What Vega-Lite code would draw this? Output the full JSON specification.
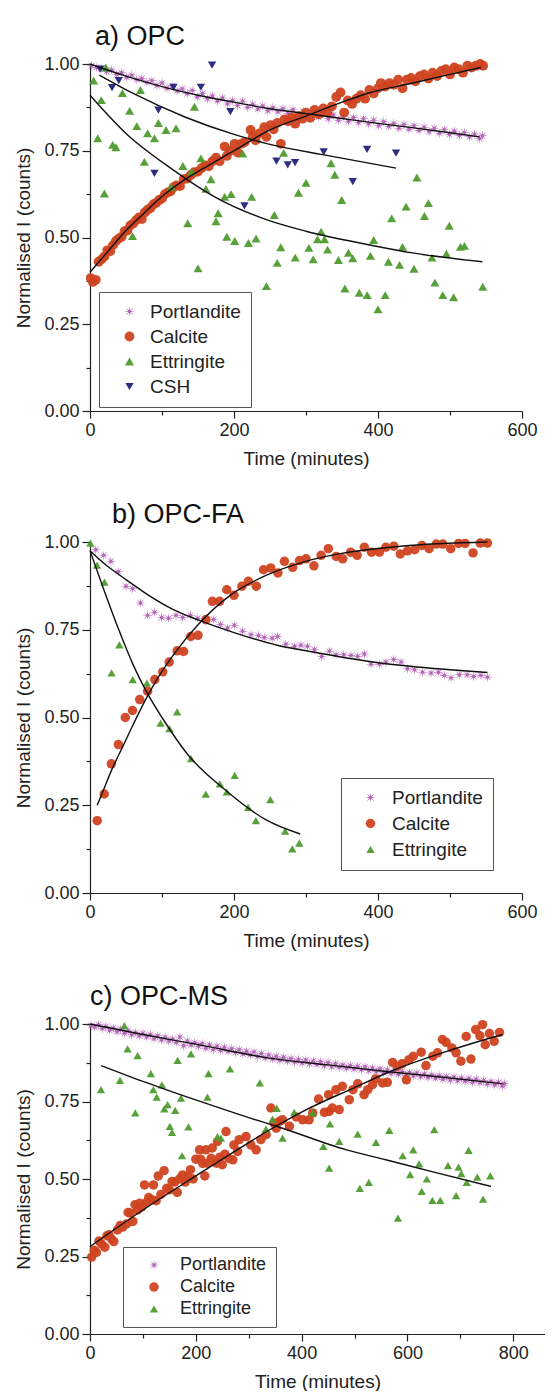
{
"$schema":"https://vega.github.io/schema/vega-lite/v6.json",
"background":"white",
"padding":{"left":14,"top":23,"right":0,"bottom":0},
"config":{
 "font":"Liberation Sans",
 "view":{"stroke":null},
 "axis":{"domainColor":"#222","tickColor":"#222","labelColor":"#222","titleColor":"#222","labelFontSize":18,"titleFontSize":19,"titleFontWeight":"normal","grid":false,"domainWidth":1.2,"tickWidth":1.2,"labelPadding":3,"titlePadding":10,"labelFlush":false,"labelOverlap":false,"labelFont":"Liberation Sans","titleFont":"Liberation Sans"},
 "title":{"fontSize":27,"fontWeight":"normal","anchor":"start","frame":"group","offset":4,"color":"#111","font":"Liberation Sans"},
 "legend":{"labelColor":"#222","labelFont":"Liberation Sans","strokeColor":"#555"}
},
"datasets":{
"a_pts":[
{"m":"Portlandite","t":2,"v":0.995},{"m":"Portlandite","t":9,"v":0.99},{"m":"Portlandite","t":16,"v":0.987},{"m":"Portlandite","t":23,"v":0.978},{"m":"Portlandite","t":30,"v":0.983},{"m":"Portlandite","t":37,"v":0.97},{"m":"Portlandite","t":44,"v":0.975},{"m":"Portlandite","t":51,"v":0.962},{"m":"Portlandite","t":58,"v":0.968},{"m":"Portlandite","t":65,"v":0.955},{"m":"Portlandite","t":72,"v":0.958},{"m":"Portlandite","t":79,"v":0.947},{"m":"Portlandite","t":86,"v":0.952},{"m":"Portlandite","t":93,"v":0.938},{"m":"Portlandite","t":100,"v":0.945},{"m":"Portlandite","t":107,"v":0.93},{"m":"Portlandite","t":114,"v":0.937},{"m":"Portlandite","t":121,"v":0.922},{"m":"Portlandite","t":128,"v":0.928},{"m":"Portlandite","t":135,"v":0.915},{"m":"Portlandite","t":142,"v":0.924},{"m":"Portlandite","t":149,"v":0.905},{"m":"Portlandite","t":156,"v":0.915},{"m":"Portlandite","t":163,"v":0.9},{"m":"Portlandite","t":170,"v":0.908},{"m":"Portlandite","t":177,"v":0.893},{"m":"Portlandite","t":184,"v":0.902},{"m":"Portlandite","t":191,"v":0.885},{"m":"Portlandite","t":198,"v":0.895},{"m":"Portlandite","t":205,"v":0.88},{"m":"Portlandite","t":212,"v":0.893},{"m":"Portlandite","t":219,"v":0.875},{"m":"Portlandite","t":226,"v":0.884},{"m":"Portlandite","t":233,"v":0.87},{"m":"Portlandite","t":240,"v":0.879},{"m":"Portlandite","t":247,"v":0.865},{"m":"Portlandite","t":254,"v":0.874},{"m":"Portlandite","t":261,"v":0.862},{"m":"Portlandite","t":268,"v":0.871},{"m":"Portlandite","t":275,"v":0.858},{"m":"Portlandite","t":282,"v":0.868},{"m":"Portlandite","t":289,"v":0.853},{"m":"Portlandite","t":296,"v":0.864},{"m":"Portlandite","t":303,"v":0.85},{"m":"Portlandite","t":310,"v":0.861},{"m":"Portlandite","t":317,"v":0.847},{"m":"Portlandite","t":324,"v":0.856},{"m":"Portlandite","t":331,"v":0.842},{"m":"Portlandite","t":338,"v":0.853},{"m":"Portlandite","t":345,"v":0.838},{"m":"Portlandite","t":352,"v":0.849},{"m":"Portlandite","t":359,"v":0.835},{"m":"Portlandite","t":366,"v":0.846},{"m":"Portlandite","t":373,"v":0.831},{"m":"Portlandite","t":380,"v":0.842},{"m":"Portlandite","t":387,"v":0.828},{"m":"Portlandite","t":394,"v":0.838},{"m":"Portlandite","t":401,"v":0.822},{"m":"Portlandite","t":408,"v":0.834},{"m":"Portlandite","t":415,"v":0.82},{"m":"Portlandite","t":422,"v":0.829},{"m":"Portlandite","t":429,"v":0.815},{"m":"Portlandite","t":436,"v":0.826},{"m":"Portlandite","t":443,"v":0.812},{"m":"Portlandite","t":450,"v":0.822},{"m":"Portlandite","t":457,"v":0.808},{"m":"Portlandite","t":464,"v":0.818},{"m":"Portlandite","t":471,"v":0.805},{"m":"Portlandite","t":478,"v":0.815},{"m":"Portlandite","t":485,"v":0.8},{"m":"Portlandite","t":492,"v":0.811},{"m":"Portlandite","t":499,"v":0.797},{"m":"Portlandite","t":506,"v":0.806},{"m":"Portlandite","t":513,"v":0.794},{"m":"Portlandite","t":520,"v":0.803},{"m":"Portlandite","t":527,"v":0.79},{"m":"Portlandite","t":534,"v":0.798},{"m":"Portlandite","t":541,"v":0.785},{"m":"Portlandite","t":545,"v":0.793},
{"m":"Calcite","t":1,"v":0.383},{"m":"Calcite","t":4,"v":0.372},{"m":"Calcite","t":8,"v":0.378},{"m":"Calcite","t":12,"v":0.43},{"m":"Calcite","t":16,"v":0.437},{"m":"Calcite","t":20,"v":0.445},{"m":"Calcite","t":24,"v":0.463},{"m":"Calcite","t":28,"v":0.46},{"m":"Calcite","t":32,"v":0.478},{"m":"Calcite","t":36,"v":0.49},{"m":"Calcite","t":40,"v":0.497},{"m":"Calcite","t":44,"v":0.502},{"m":"Calcite","t":48,"v":0.518},{"m":"Calcite","t":52,"v":0.52},{"m":"Calcite","t":56,"v":0.535},{"m":"Calcite","t":60,"v":0.54},{"m":"Calcite","t":64,"v":0.55},{"m":"Calcite","t":68,"v":0.558},{"m":"Calcite","t":72,"v":0.553},{"m":"Calcite","t":76,"v":0.572},{"m":"Calcite","t":80,"v":0.58},{"m":"Calcite","t":84,"v":0.585},{"m":"Calcite","t":88,"v":0.595},{"m":"Calcite","t":92,"v":0.6},{"m":"Calcite","t":96,"v":0.608},{"m":"Calcite","t":100,"v":0.612},{"m":"Calcite","t":104,"v":0.625},{"m":"Calcite","t":108,"v":0.63},{"m":"Calcite","t":112,"v":0.633},{"m":"Calcite","t":116,"v":0.645},{"m":"Calcite","t":120,"v":0.65},{"m":"Calcite","t":125,"v":0.648},{"m":"Calcite","t":130,"v":0.668},{"m":"Calcite","t":135,"v":0.67},{"m":"Calcite","t":140,"v":0.68},{"m":"Calcite","t":145,"v":0.688},{"m":"Calcite","t":150,"v":0.69},{"m":"Calcite","t":155,"v":0.7},{"m":"Calcite","t":160,"v":0.708},{"m":"Calcite","t":165,"v":0.705},{"m":"Calcite","t":170,"v":0.72},{"m":"Calcite","t":175,"v":0.73},{"m":"Calcite","t":180,"v":0.72},{"m":"Calcite","t":187,"v":0.762},{"m":"Calcite","t":190,"v":0.735},{"m":"Calcite","t":195,"v":0.75},{"m":"Calcite","t":201,"v":0.77},{"m":"Calcite","t":205,"v":0.745},{"m":"Calcite","t":210,"v":0.77},{"m":"Calcite","t":215,"v":0.775},{"m":"Calcite","t":223,"v":0.81},{"m":"Calcite","t":226,"v":0.79},{"m":"Calcite","t":230,"v":0.78},{"m":"Calcite","t":235,"v":0.8},{"m":"Calcite","t":242,"v":0.818},{"m":"Calcite","t":245,"v":0.79},{"m":"Calcite","t":251,"v":0.824},{"m":"Calcite","t":255,"v":0.812},{"m":"Calcite","t":260,"v":0.83},{"m":"Calcite","t":265,"v":0.77},{"m":"Calcite","t":270,"v":0.84},{"m":"Calcite","t":275,"v":0.835},{"m":"Calcite","t":280,"v":0.845},{"m":"Calcite","t":285,"v":0.828},{"m":"Calcite","t":290,"v":0.85},{"m":"Calcite","t":295,"v":0.842},{"m":"Calcite","t":300,"v":0.86},{"m":"Calcite","t":306,"v":0.845},{"m":"Calcite","t":312,"v":0.868},{"m":"Calcite","t":318,"v":0.855},{"m":"Calcite","t":324,"v":0.872},{"m":"Calcite","t":330,"v":0.86},{"m":"Calcite","t":336,"v":0.878},{"m":"Calcite","t":342,"v":0.905},{"m":"Calcite","t":348,"v":0.918},{"m":"Calcite","t":353,"v":0.86},{"m":"Calcite","t":358,"v":0.895},{"m":"Calcite","t":364,"v":0.885},{"m":"Calcite","t":370,"v":0.9},{"m":"Calcite","t":376,"v":0.91},{"m":"Calcite","t":382,"v":0.9},{"m":"Calcite","t":388,"v":0.925},{"m":"Calcite","t":394,"v":0.915},{"m":"Calcite","t":400,"v":0.93},{"m":"Calcite","t":404,"v":0.945},{"m":"Calcite","t":410,"v":0.935},{"m":"Calcite","t":416,"v":0.945},{"m":"Calcite","t":422,"v":0.94},{"m":"Calcite","t":428,"v":0.955},{"m":"Calcite","t":434,"v":0.93},{"m":"Calcite","t":440,"v":0.955},{"m":"Calcite","t":446,"v":0.96},{"m":"Calcite","t":452,"v":0.95},{"m":"Calcite","t":458,"v":0.965},{"m":"Calcite","t":464,"v":0.97},{"m":"Calcite","t":470,"v":0.958},{"m":"Calcite","t":476,"v":0.975},{"m":"Calcite","t":482,"v":0.965},{"m":"Calcite","t":488,"v":0.98},{"m":"Calcite","t":494,"v":0.985},{"m":"Calcite","t":500,"v":0.97},{"m":"Calcite","t":506,"v":0.99},{"m":"Calcite","t":512,"v":0.985},{"m":"Calcite","t":518,"v":0.975},{"m":"Calcite","t":524,"v":0.995},{"m":"Calcite","t":530,"v":0.99},{"m":"Calcite","t":536,"v":0.995},{"m":"Calcite","t":542,"v":1.0},{"m":"Calcite","t":546,"v":0.995},
{"m":"Ettringite","t":5,"v":0.952},{"m":"Ettringite","t":10.7,"v":0.786},{"m":"Ettringite","t":15.7,"v":0.896},{"m":"Ettringite","t":20,"v":0.627},{"m":"Ettringite","t":22,"v":0.99},{"m":"Ettringite","t":31.5,"v":0.767},{"m":"Ettringite","t":36,"v":0.76},{"m":"Ettringite","t":45,"v":0.916},{"m":"Ettringite","t":55,"v":0.865},{"m":"Ettringite","t":59,"v":0.504},{"m":"Ettringite","t":65,"v":0.821},{"m":"Ettringite","t":70,"v":0.925},{"m":"Ettringite","t":75.5,"v":0.718},{"m":"Ettringite","t":80,"v":0.8},{"m":"Ettringite","t":89.5,"v":0.786},{"m":"Ettringite","t":95,"v":0.83},{"m":"Ettringite","t":105.6,"v":0.81},{"m":"Ettringite","t":112.5,"v":0.646},{"m":"Ettringite","t":119.5,"v":0.815},{"m":"Ettringite","t":129,"v":0.706},{"m":"Ettringite","t":135.7,"v":0.541},{"m":"Ettringite","t":141,"v":0.69},{"m":"Ettringite","t":145,"v":0.877},{"m":"Ettringite","t":150,"v":0.411},{"m":"Ettringite","t":154,"v":0.728},{"m":"Ettringite","t":161,"v":0.64},{"m":"Ettringite","t":168,"v":0.668},{"m":"Ettringite","t":175,"v":0.547},{"m":"Ettringite","t":178,"v":0.57},{"m":"Ettringite","t":187,"v":0.617},{"m":"Ettringite","t":190,"v":0.502},{"m":"Ettringite","t":196,"v":0.625},{"m":"Ettringite","t":201,"v":0.49},{"m":"Ettringite","t":212,"v":0.742},{"m":"Ettringite","t":220,"v":0.484},{"m":"Ettringite","t":224.6,"v":0.617},{"m":"Ettringite","t":230.6,"v":0.497},{"m":"Ettringite","t":245,"v":0.36},{"m":"Ettringite","t":256,"v":0.565},{"m":"Ettringite","t":260,"v":0.427},{"m":"Ettringite","t":265,"v":0.472},{"m":"Ettringite","t":269,"v":0.744},{"m":"Ettringite","t":285,"v":0.442},{"m":"Ettringite","t":289.5,"v":0.629},{"m":"Ettringite","t":300,"v":0.658},{"m":"Ettringite","t":304,"v":0.47},{"m":"Ettringite","t":310,"v":0.437},{"m":"Ettringite","t":316,"v":0.495},{"m":"Ettringite","t":321,"v":0.517},{"m":"Ettringite","t":325.6,"v":0.495},{"m":"Ettringite","t":330,"v":0.465},{"m":"Ettringite","t":334.8,"v":0.714},{"m":"Ettringite","t":340,"v":0.681},{"m":"Ettringite","t":345,"v":0.435},{"m":"Ettringite","t":349.6,"v":0.608},{"m":"Ettringite","t":354,"v":0.353},{"m":"Ettringite","t":359,"v":0.456},{"m":"Ettringite","t":365,"v":0.44},{"m":"Ettringite","t":374,"v":0.341},{"m":"Ettringite","t":385,"v":0.334},{"m":"Ettringite","t":389.5,"v":0.447},{"m":"Ettringite","t":394,"v":0.493},{"m":"Ettringite","t":400,"v":0.293},{"m":"Ettringite","t":410,"v":0.334},{"m":"Ettringite","t":414.5,"v":0.43},{"m":"Ettringite","t":419,"v":0.555},{"m":"Ettringite","t":430,"v":0.421},{"m":"Ettringite","t":434,"v":0.473},{"m":"Ettringite","t":439,"v":0.589},{"m":"Ettringite","t":450,"v":0.41},{"m":"Ettringite","t":454,"v":0.673},{"m":"Ettringite","t":464.5,"v":0.562},{"m":"Ettringite","t":470,"v":0.599},{"m":"Ettringite","t":475,"v":0.442},{"m":"Ettringite","t":479,"v":0.37},{"m":"Ettringite","t":490,"v":0.334},{"m":"Ettringite","t":495,"v":0.453},{"m":"Ettringite","t":499,"v":0.534},{"m":"Ettringite","t":505,"v":0.328},{"m":"Ettringite","t":514.5,"v":0.473},{"m":"Ettringite","t":520,"v":0.476},{"m":"Ettringite","t":545.5,"v":0.358},
{"m":"CSH","t":14,"v":0.985},{"m":"CSH","t":30.6,"v":0.932},{"m":"CSH","t":40,"v":0.952},{"m":"CSH","t":89.5,"v":0.685},{"m":"CSH","t":95,"v":0.867},{"m":"CSH","t":116,"v":0.933},{"m":"CSH","t":154,"v":0.933},{"m":"CSH","t":169.5,"v":0.997},{"m":"CSH","t":195,"v":0.863},{"m":"CSH","t":214.5,"v":0.591},{"m":"CSH","t":259,"v":0.72},{"m":"CSH","t":274.6,"v":0.709},{"m":"CSH","t":284.8,"v":0.716},{"m":"CSH","t":324.6,"v":0.747},{"m":"CSH","t":365,"v":0.661},{"m":"CSH","t":384.8,"v":0.754},{"m":"CSH","t":425,"v":0.743}
],
"a_fit":[
{"m":"Portlandite","t":0,"v":1.0},{"m":"Portlandite","t":50,"v":0.965},{"m":"Portlandite","t":100,"v":0.935},{"m":"Portlandite","t":150,"v":0.91},{"m":"Portlandite","t":200,"v":0.89},{"m":"Portlandite","t":250,"v":0.871},{"m":"Portlandite","t":300,"v":0.857},{"m":"Portlandite","t":350,"v":0.843},{"m":"Portlandite","t":400,"v":0.829},{"m":"Portlandite","t":450,"v":0.816},{"m":"Portlandite","t":500,"v":0.802},{"m":"Portlandite","t":541,"v":0.79},
{"m":"Calcite","t":0,"v":0.4},{"m":"Calcite","t":25,"v":0.46},{"m":"Calcite","t":50,"v":0.52},{"m":"Calcite","t":75,"v":0.57},{"m":"Calcite","t":100,"v":0.618},{"m":"Calcite","t":131,"v":0.666},{"m":"Calcite","t":175,"v":0.72},{"m":"Calcite","t":200,"v":0.75},{"m":"Calcite","t":250,"v":0.81},{"m":"Calcite","t":300,"v":0.85},{"m":"Calcite","t":350,"v":0.89},{"m":"Calcite","t":385,"v":0.915},{"m":"Calcite","t":450,"v":0.946},{"m":"Calcite","t":500,"v":0.97},{"m":"Calcite","t":543,"v":0.99},
{"m":"Ettringite","t":0,"v":0.91},{"m":"Ettringite","t":50,"v":0.8},{"m":"Ettringite","t":112,"v":0.7},{"m":"Ettringite","t":175,"v":0.615},{"m":"Ettringite","t":247,"v":0.55},{"m":"Ettringite","t":300,"v":0.518},{"m":"Ettringite","t":385,"v":0.48},{"m":"Ettringite","t":450,"v":0.455},{"m":"Ettringite","t":545,"v":0.43},
{"m":"CSH","t":13,"v":0.968},{"m":"CSH","t":60,"v":0.915},{"m":"CSH","t":131,"v":0.848},{"m":"CSH","t":200,"v":0.797},{"m":"CSH","t":247,"v":0.77},{"m":"CSH","t":325,"v":0.738},{"m":"CSH","t":425,"v":0.7}
],
"b_pts":[
{"m":"Portlandite","t":8,"v":0.978},{"m":"Portlandite","t":19,"v":0.962},{"m":"Portlandite","t":29,"v":0.945},{"m":"Portlandite","t":39.4,"v":0.915},{"m":"Portlandite","t":50,"v":0.874},{"m":"Portlandite","t":59.3,"v":0.867},{"m":"Portlandite","t":70,"v":0.826},{"m":"Portlandite","t":80,"v":0.791},{"m":"Portlandite","t":89.5,"v":0.8},{"m":"Portlandite","t":99.6,"v":0.785},{"m":"Portlandite","t":109,"v":0.783},{"m":"Portlandite","t":119.5,"v":0.791},{"m":"Portlandite","t":128.8,"v":0.785},{"m":"Portlandite","t":139.4,"v":0.791},{"m":"Portlandite","t":149.6,"v":0.783},{"m":"Portlandite","t":161,"v":0.774},{"m":"Portlandite","t":171.8,"v":0.779},{"m":"Portlandite","t":181,"v":0.765},{"m":"Portlandite","t":191,"v":0.755},{"m":"Portlandite","t":200.5,"v":0.763},{"m":"Portlandite","t":212,"v":0.746},{"m":"Portlandite","t":223.6,"v":0.736},{"m":"Portlandite","t":234,"v":0.734},{"m":"Portlandite","t":242,"v":0.728},{"m":"Portlandite","t":253,"v":0.726},{"m":"Portlandite","t":260.7,"v":0.731},{"m":"Portlandite","t":272,"v":0.709},{"m":"Portlandite","t":284,"v":0.703},{"m":"Portlandite","t":293,"v":0.706},{"m":"Portlandite","t":302,"v":0.703},{"m":"Portlandite","t":311.7,"v":0.693},{"m":"Portlandite","t":321.8,"v":0.674},{"m":"Portlandite","t":332.5,"v":0.689},{"m":"Portlandite","t":341.7,"v":0.679},{"m":"Portlandite","t":352.4,"v":0.679},{"m":"Portlandite","t":362.5,"v":0.677},{"m":"Portlandite","t":371.8,"v":0.674},{"m":"Portlandite","t":381,"v":0.681},{"m":"Portlandite","t":390.3,"v":0.652},{"m":"Portlandite","t":402,"v":0.652},{"m":"Portlandite","t":411,"v":0.658},{"m":"Portlandite","t":421.8,"v":0.665},{"m":"Portlandite","t":432,"v":0.658},{"m":"Portlandite","t":441,"v":0.639},{"m":"Portlandite","t":450.6,"v":0.636},{"m":"Portlandite","t":462,"v":0.629},{"m":"Portlandite","t":473.6,"v":0.627},{"m":"Portlandite","t":484,"v":0.629},{"m":"Portlandite","t":492,"v":0.62},{"m":"Portlandite","t":501.4,"v":0.613},{"m":"Portlandite","t":513,"v":0.622},{"m":"Portlandite","t":523.7,"v":0.622},{"m":"Portlandite","t":533,"v":0.617},{"m":"Portlandite","t":543,"v":0.62},{"m":"Portlandite","t":552,"v":0.615},
{"m":"Calcite","t":10,"v":0.206},{"m":"Calcite","t":19.7,"v":0.282},{"m":"Calcite","t":29.6,"v":0.368},{"m":"Calcite","t":39.4,"v":0.423},{"m":"Calcite","t":49,"v":0.5},{"m":"Calcite","t":59,"v":0.52},{"m":"Calcite","t":69,"v":0.551},{"m":"Calcite","t":80,"v":0.575},{"m":"Calcite","t":90,"v":0.608},{"m":"Calcite","t":101,"v":0.63},{"m":"Calcite","t":110,"v":0.658},{"m":"Calcite","t":121,"v":0.69},{"m":"Calcite","t":130,"v":0.688},{"m":"Calcite","t":140,"v":0.731},{"m":"Calcite","t":150,"v":0.734},{"m":"Calcite","t":161,"v":0.779},{"m":"Calcite","t":170,"v":0.831},{"m":"Calcite","t":180,"v":0.831},{"m":"Calcite","t":190,"v":0.864},{"m":"Calcite","t":200,"v":0.848},{"m":"Calcite","t":211,"v":0.874},{"m":"Calcite","t":220,"v":0.888},{"m":"Calcite","t":231,"v":0.874},{"m":"Calcite","t":241,"v":0.921},{"m":"Calcite","t":251,"v":0.926},{"m":"Calcite","t":261,"v":0.912},{"m":"Calcite","t":270,"v":0.945},{"m":"Calcite","t":281.5,"v":0.928},{"m":"Calcite","t":291,"v":0.947},{"m":"Calcite","t":300,"v":0.952},{"m":"Calcite","t":311,"v":0.932},{"m":"Calcite","t":321,"v":0.962},{"m":"Calcite","t":331,"v":0.981},{"m":"Calcite","t":342,"v":0.959},{"m":"Calcite","t":351,"v":0.952},{"m":"Calcite","t":362,"v":0.971},{"m":"Calcite","t":371,"v":0.962},{"m":"Calcite","t":381,"v":0.985},{"m":"Calcite","t":391,"v":0.971},{"m":"Calcite","t":402,"v":0.971},{"m":"Calcite","t":411,"v":0.985},{"m":"Calcite","t":422,"v":0.988},{"m":"Calcite","t":431,"v":0.966},{"m":"Calcite","t":441,"v":0.975},{"m":"Calcite","t":451,"v":0.978},{"m":"Calcite","t":461,"v":0.99},{"m":"Calcite","t":471,"v":0.981},{"m":"Calcite","t":481,"v":0.994},{"m":"Calcite","t":490,"v":0.994},{"m":"Calcite","t":501,"v":0.981},{"m":"Calcite","t":512,"v":0.996},{"m":"Calcite","t":521,"v":0.996},{"m":"Calcite","t":532,"v":0.969},{"m":"Calcite","t":542,"v":0.997},{"m":"Calcite","t":552,"v":0.997},
{"m":"Ettringite","t":0.5,"v":0.997},{"m":"Ettringite","t":9.7,"v":0.934},{"m":"Ettringite","t":20,"v":0.886},{"m":"Ettringite","t":30,"v":0.627},{"m":"Ettringite","t":40.8,"v":0.707},{"m":"Ettringite","t":59.3,"v":0.608},{"m":"Ettringite","t":79,"v":0.598},{"m":"Ettringite","t":98,"v":0.484},{"m":"Ettringite","t":110.4,"v":0.468},{"m":"Ettringite","t":121,"v":0.516},{"m":"Ettringite","t":140.3,"v":0.383},{"m":"Ettringite","t":160.8,"v":0.282},{"m":"Ettringite","t":180.4,"v":0.311},{"m":"Ettringite","t":190,"v":0.288},{"m":"Ettringite","t":201,"v":0.335},{"m":"Ettringite","t":219.6,"v":0.244},{"m":"Ettringite","t":230.4,"v":0.206},{"m":"Ettringite","t":250.5,"v":0.266},{"m":"Ettringite","t":271,"v":0.176},{"m":"Ettringite","t":281,"v":0.126},{"m":"Ettringite","t":290.7,"v":0.142}
],
"b_fit":[
{"m":"Portlandite","t":0,"v":0.975},{"m":"Portlandite","t":20,"v":0.938},{"m":"Portlandite","t":50,"v":0.893},{"m":"Portlandite","t":80,"v":0.85},{"m":"Portlandite","t":115,"v":0.808},{"m":"Portlandite","t":150,"v":0.778},{"m":"Portlandite","t":200,"v":0.742},{"m":"Portlandite","t":260,"v":0.706},{"m":"Portlandite","t":300,"v":0.69},{"m":"Portlandite","t":400,"v":0.656},{"m":"Portlandite","t":500,"v":0.636},{"m":"Portlandite","t":552,"v":0.628},
{"m":"Calcite","t":10,"v":0.25},{"m":"Calcite","t":20,"v":0.3},{"m":"Calcite","t":30,"v":0.35},{"m":"Calcite","t":45,"v":0.415},{"m":"Calcite","t":60,"v":0.48},{"m":"Calcite","t":77,"v":0.55},{"m":"Calcite","t":94,"v":0.612},{"m":"Calcite","t":120,"v":0.69},{"m":"Calcite","t":150,"v":0.764},{"m":"Calcite","t":196,"v":0.85},{"m":"Calcite","t":247,"v":0.907},{"m":"Calcite","t":300,"v":0.945},{"m":"Calcite","t":340,"v":0.964},{"m":"Calcite","t":432,"v":0.988},{"m":"Calcite","t":552,"v":1.0},
{"m":"Ettringite","t":0,"v":0.975},{"m":"Ettringite","t":20,"v":0.86},{"m":"Ettringite","t":40,"v":0.75},{"m":"Ettringite","t":60,"v":0.65},{"m":"Ettringite","t":78,"v":0.575},{"m":"Ettringite","t":100,"v":0.5},{"m":"Ettringite","t":136,"v":0.394},{"m":"Ettringite","t":190,"v":0.29},{"m":"Ettringite","t":244,"v":0.209},{"m":"Ettringite","t":292,"v":0.168}
],
"c_pts":[
{"m":"Portlandite","t":2,"v":0.995},{"m":"Portlandite","t":9,"v":0.99},{"m":"Portlandite","t":16,"v":0.998},{"m":"Portlandite","t":23,"v":0.985},{"m":"Portlandite","t":30,"v":0.992},{"m":"Portlandite","t":37,"v":0.98},{"m":"Portlandite","t":44,"v":0.987},{"m":"Portlandite","t":51,"v":0.975},{"m":"Portlandite","t":58,"v":0.983},{"m":"Portlandite","t":65,"v":0.97},{"m":"Portlandite","t":72,"v":0.978},{"m":"Portlandite","t":79,"v":0.965},{"m":"Portlandite","t":86,"v":0.973},{"m":"Portlandite","t":93,"v":0.962},{"m":"Portlandite","t":100,"v":0.97},{"m":"Portlandite","t":107,"v":0.958},{"m":"Portlandite","t":114,"v":0.966},{"m":"Portlandite","t":121,"v":0.952},{"m":"Portlandite","t":128,"v":0.962},{"m":"Portlandite","t":135,"v":0.948},{"m":"Portlandite","t":142,"v":0.957},{"m":"Portlandite","t":149,"v":0.945},{"m":"Portlandite","t":156,"v":0.952},{"m":"Portlandite","t":163,"v":0.94},{"m":"Portlandite","t":170,"v":0.958},{"m":"Portlandite","t":177,"v":0.93},{"m":"Portlandite","t":184,"v":0.945},{"m":"Portlandite","t":191,"v":0.932},{"m":"Portlandite","t":198,"v":0.94},{"m":"Portlandite","t":205,"v":0.928},{"m":"Portlandite","t":212,"v":0.937},{"m":"Portlandite","t":219,"v":0.922},{"m":"Portlandite","t":226,"v":0.932},{"m":"Portlandite","t":233,"v":0.918},{"m":"Portlandite","t":240,"v":0.928},{"m":"Portlandite","t":247,"v":0.915},{"m":"Portlandite","t":254,"v":0.925},{"m":"Portlandite","t":261,"v":0.912},{"m":"Portlandite","t":268,"v":0.92},{"m":"Portlandite","t":275,"v":0.908},{"m":"Portlandite","t":282,"v":0.917},{"m":"Portlandite","t":289,"v":0.903},{"m":"Portlandite","t":296,"v":0.912},{"m":"Portlandite","t":303,"v":0.9},{"m":"Portlandite","t":310,"v":0.91},{"m":"Portlandite","t":317,"v":0.895},{"m":"Portlandite","t":324,"v":0.905},{"m":"Portlandite","t":331,"v":0.89},{"m":"Portlandite","t":338,"v":0.9},{"m":"Portlandite","t":345,"v":0.887},{"m":"Portlandite","t":352,"v":0.896},{"m":"Portlandite","t":359,"v":0.883},{"m":"Portlandite","t":366,"v":0.893},{"m":"Portlandite","t":373,"v":0.88},{"m":"Portlandite","t":380,"v":0.889},{"m":"Portlandite","t":387,"v":0.877},{"m":"Portlandite","t":394,"v":0.886},{"m":"Portlandite","t":401,"v":0.874},{"m":"Portlandite","t":408,"v":0.884},{"m":"Portlandite","t":415,"v":0.872},{"m":"Portlandite","t":422,"v":0.881},{"m":"Portlandite","t":429,"v":0.869},{"m":"Portlandite","t":436,"v":0.878},{"m":"Portlandite","t":443,"v":0.865},{"m":"Portlandite","t":450,"v":0.876},{"m":"Portlandite","t":457,"v":0.862},{"m":"Portlandite","t":464,"v":0.872},{"m":"Portlandite","t":471,"v":0.86},{"m":"Portlandite","t":478,"v":0.868},{"m":"Portlandite","t":485,"v":0.857},{"m":"Portlandite","t":492,"v":0.866},{"m":"Portlandite","t":499,"v":0.855},{"m":"Portlandite","t":506,"v":0.864},{"m":"Portlandite","t":513,"v":0.852},{"m":"Portlandite","t":520,"v":0.862},{"m":"Portlandite","t":527,"v":0.849},{"m":"Portlandite","t":534,"v":0.858},{"m":"Portlandite","t":541,"v":0.846},{"m":"Portlandite","t":548,"v":0.856},{"m":"Portlandite","t":555,"v":0.843},{"m":"Portlandite","t":562,"v":0.852},{"m":"Portlandite","t":569,"v":0.84},{"m":"Portlandite","t":576,"v":0.85},{"m":"Portlandite","t":583,"v":0.838},{"m":"Portlandite","t":590,"v":0.847},{"m":"Portlandite","t":597,"v":0.835},{"m":"Portlandite","t":604,"v":0.844},{"m":"Portlandite","t":611,"v":0.832},{"m":"Portlandite","t":618,"v":0.842},{"m":"Portlandite","t":625,"v":0.83},{"m":"Portlandite","t":632,"v":0.839},{"m":"Portlandite","t":639,"v":0.827},{"m":"Portlandite","t":646,"v":0.836},{"m":"Portlandite","t":653,"v":0.825},{"m":"Portlandite","t":660,"v":0.833},{"m":"Portlandite","t":667,"v":0.822},{"m":"Portlandite","t":674,"v":0.831},{"m":"Portlandite","t":681,"v":0.819},{"m":"Portlandite","t":688,"v":0.829},{"m":"Portlandite","t":695,"v":0.817},{"m":"Portlandite","t":702,"v":0.826},{"m":"Portlandite","t":709,"v":0.815},{"m":"Portlandite","t":716,"v":0.824},{"m":"Portlandite","t":723,"v":0.812},{"m":"Portlandite","t":730,"v":0.822},{"m":"Portlandite","t":737,"v":0.81},{"m":"Portlandite","t":744,"v":0.818},{"m":"Portlandite","t":751,"v":0.806},{"m":"Portlandite","t":758,"v":0.815},{"m":"Portlandite","t":765,"v":0.803},{"m":"Portlandite","t":772,"v":0.812},{"m":"Portlandite","t":779,"v":0.8},{"m":"Portlandite","t":783,"v":0.808},
{"m":"Calcite","t":3,"v":0.248},{"m":"Calcite","t":8,"v":0.27},{"m":"Calcite","t":12,"v":0.263},{"m":"Calcite","t":17,"v":0.3},{"m":"Calcite","t":22,"v":0.29},{"m":"Calcite","t":28,"v":0.28},{"m":"Calcite","t":32,"v":0.317},{"m":"Calcite","t":36,"v":0.32},{"m":"Calcite","t":41,"v":0.306},{"m":"Calcite","t":45,"v":0.298},{"m":"Calcite","t":52,"v":0.336},{"m":"Calcite","t":57,"v":0.35},{"m":"Calcite","t":62,"v":0.345},{"m":"Calcite","t":69,"v":0.355},{"m":"Calcite","t":72,"v":0.392},{"m":"Calcite","t":76,"v":0.39},{"m":"Calcite","t":81,"v":0.363},{"m":"Calcite","t":85,"v":0.417},{"m":"Calcite","t":90,"v":0.4},{"m":"Calcite","t":94,"v":0.422},{"m":"Calcite","t":98,"v":0.41},{"m":"Calcite","t":103,"v":0.481},{"m":"Calcite","t":107,"v":0.424},{"m":"Calcite","t":111,"v":0.44},{"m":"Calcite","t":117,"v":0.433},{"m":"Calcite","t":120,"v":0.481},{"m":"Calcite","t":125,"v":0.43},{"m":"Calcite","t":129,"v":0.51},{"m":"Calcite","t":134,"v":0.45},{"m":"Calcite","t":140,"v":0.527},{"m":"Calcite","t":145,"v":0.47},{"m":"Calcite","t":150,"v":0.465},{"m":"Calcite","t":155,"v":0.492},{"m":"Calcite","t":160,"v":0.49},{"m":"Calcite","t":165,"v":0.457},{"m":"Calcite","t":169,"v":0.5},{"m":"Calcite","t":175,"v":0.513},{"m":"Calcite","t":180,"v":0.49},{"m":"Calcite","t":185,"v":0.508},{"m":"Calcite","t":190,"v":0.53},{"m":"Calcite","t":195,"v":0.5},{"m":"Calcite","t":200,"v":0.564},{"m":"Calcite","t":207,"v":0.594},{"m":"Calcite","t":209,"v":0.564},{"m":"Calcite","t":213,"v":0.55},{"m":"Calcite","t":217,"v":0.51},{"m":"Calcite","t":219,"v":0.594},{"m":"Calcite","t":222,"v":0.551},{"m":"Calcite","t":229,"v":0.567},{"m":"Calcite","t":231,"v":0.6},{"m":"Calcite","t":239,"v":0.551},{"m":"Calcite","t":241,"v":0.621},{"m":"Calcite","t":245,"v":0.57},{"m":"Calcite","t":250,"v":0.546},{"m":"Calcite","t":255,"v":0.58},{"m":"Calcite","t":257,"v":0.653},{"m":"Calcite","t":262,"v":0.567},{"m":"Calcite","t":270,"v":0.562},{"m":"Calcite","t":272,"v":0.61},{"m":"Calcite","t":279,"v":0.589},{"m":"Calcite","t":282,"v":0.627},{"m":"Calcite","t":295,"v":0.637},{"m":"Calcite","t":304,"v":0.61},{"m":"Calcite","t":314,"v":0.594},{"m":"Calcite","t":323,"v":0.627},{"m":"Calcite","t":333,"v":0.643},{"m":"Calcite","t":342,"v":0.729},{"m":"Calcite","t":348,"v":0.68},{"m":"Calcite","t":352,"v":0.664},{"m":"Calcite","t":358,"v":0.686},{"m":"Calcite","t":364,"v":0.691},{"m":"Calcite","t":377,"v":0.67},{"m":"Calcite","t":390,"v":0.7},{"m":"Calcite","t":402,"v":0.691},{"m":"Calcite","t":414,"v":0.691},{"m":"Calcite","t":421,"v":0.713},{"m":"Calcite","t":432,"v":0.758},{"m":"Calcite","t":443,"v":0.715},{"m":"Calcite","t":451,"v":0.772},{"m":"Calcite","t":452,"v":0.718},{"m":"Calcite","t":458,"v":0.729},{"m":"Calcite","t":465,"v":0.788},{"m":"Calcite","t":471,"v":0.724},{"m":"Calcite","t":477,"v":0.799},{"m":"Calcite","t":490,"v":0.756},{"m":"Calcite","t":497,"v":0.788},{"m":"Calcite","t":506,"v":0.807},{"m":"Calcite","t":518,"v":0.772},{"m":"Calcite","t":525,"v":0.788},{"m":"Calcite","t":534,"v":0.804},{"m":"Calcite","t":540,"v":0.823},{"m":"Calcite","t":553,"v":0.81},{"m":"Calcite","t":562,"v":0.812},{"m":"Calcite","t":572,"v":0.876},{"m":"Calcite","t":581,"v":0.863},{"m":"Calcite","t":590,"v":0.872},{"m":"Calcite","t":598,"v":0.82},{"m":"Calcite","t":603,"v":0.885},{"m":"Calcite","t":611,"v":0.896},{"m":"Calcite","t":626,"v":0.909},{"m":"Calcite","t":635,"v":0.866},{"m":"Calcite","t":648,"v":0.896},{"m":"Calcite","t":657,"v":0.907},{"m":"Calcite","t":666,"v":0.95},{"m":"Calcite","t":673,"v":0.941},{"m":"Calcite","t":684,"v":0.923},{"m":"Calcite","t":692,"v":0.907},{"m":"Calcite","t":701,"v":0.88},{"m":"Calcite","t":711,"v":0.96},{"m":"Calcite","t":720,"v":0.887},{"m":"Calcite","t":729,"v":0.982},{"m":"Calcite","t":737,"v":0.962},{"m":"Calcite","t":742,"v":0.998},{"m":"Calcite","t":747,"v":0.933},{"m":"Calcite","t":755,"v":0.969},{"m":"Calcite","t":764,"v":0.944},{"m":"Calcite","t":774,"v":0.973},
{"m":"Ettringite","t":20.8,"v":0.788},{"m":"Ettringite","t":56.7,"v":0.818},{"m":"Ettringite","t":64.8,"v":0.995},{"m":"Ettringite","t":71,"v":0.92},{"m":"Ettringite","t":85.6,"v":0.713},{"m":"Ettringite","t":90,"v":0.898},{"m":"Ettringite","t":115,"v":0.84},{"m":"Ettringite","t":119.6,"v":0.788},{"m":"Ettringite","t":126,"v":0.764},{"m":"Ettringite","t":136,"v":0.804},{"m":"Ettringite","t":140.4,"v":0.726},{"m":"Ettringite","t":146.7,"v":0.74},{"m":"Ettringite","t":151,"v":0.67},{"m":"Ettringite","t":155,"v":0.65},{"m":"Ettringite","t":161,"v":0.721},{"m":"Ettringite","t":165.6,"v":0.883},{"m":"Ettringite","t":172,"v":0.761},{"m":"Ettringite","t":174,"v":0.575},{"m":"Ettringite","t":186,"v":0.668},{"m":"Ettringite","t":190.8,"v":0.904},{"m":"Ettringite","t":222,"v":0.764},{"m":"Ettringite","t":224,"v":0.84},{"m":"Ettringite","t":241,"v":0.637},{"m":"Ettringite","t":247.5,"v":0.632},{"m":"Ettringite","t":264.6,"v":0.855},{"m":"Ettringite","t":321,"v":0.81},{"m":"Ettringite","t":332.6,"v":0.661},{"m":"Ettringite","t":345,"v":0.693},{"m":"Ettringite","t":353,"v":0.728},{"m":"Ettringite","t":364,"v":0.632},{"m":"Ettringite","t":386,"v":0.715},{"m":"Ettringite","t":420.8,"v":0.713},{"m":"Ettringite","t":441,"v":0.605},{"m":"Ettringite","t":452,"v":0.535},{"m":"Ettringite","t":453.6,"v":0.678},{"m":"Ettringite","t":471,"v":0.621},{"m":"Ettringite","t":506,"v":0.645},{"m":"Ettringite","t":510,"v":0.47},{"m":"Ettringite","t":527,"v":0.489},{"m":"Ettringite","t":540.5,"v":0.618},{"m":"Ettringite","t":565.7,"v":0.657},{"m":"Ettringite","t":582,"v":0.374},{"m":"Ettringite","t":591,"v":0.575},{"m":"Ettringite","t":605,"v":0.514},{"m":"Ettringite","t":611,"v":0.594},{"m":"Ettringite","t":622,"v":0.549},{"m":"Ettringite","t":627,"v":0.46},{"m":"Ettringite","t":636.6,"v":0.5},{"m":"Ettringite","t":647,"v":0.431},{"m":"Ettringite","t":650.7,"v":0.659},{"m":"Ettringite","t":662,"v":0.431},{"m":"Ettringite","t":676.6,"v":0.543},{"m":"Ettringite","t":692,"v":0.446},{"m":"Ettringite","t":696.6,"v":0.538},{"m":"Ettringite","t":701.8,"v":0.517},{"m":"Ettringite","t":712,"v":0.489},{"m":"Ettringite","t":715.6,"v":0.592},{"m":"Ettringite","t":732,"v":0.506},{"m":"Ettringite","t":743,"v":0.435},{"m":"Ettringite","t":756.6,"v":0.51}
],
"c_fit":[
{"m":"Portlandite","t":0,"v":1.0},{"m":"Portlandite","t":100,"v":0.966},{"m":"Portlandite","t":200,"v":0.935},{"m":"Portlandite","t":339,"v":0.89},{"m":"Portlandite","t":450,"v":0.868},{"m":"Portlandite","t":560,"v":0.847},{"m":"Portlandite","t":680,"v":0.826},{"m":"Portlandite","t":780,"v":0.807},
{"m":"Calcite","t":0,"v":0.282},{"m":"Calcite","t":100,"v":0.4},{"m":"Calcite","t":200,"v":0.51},{"m":"Calcite","t":278,"v":0.594},{"m":"Calcite","t":339,"v":0.658},{"m":"Calcite","t":400,"v":0.716},{"m":"Calcite","t":500,"v":0.795},{"m":"Calcite","t":572,"v":0.85},{"m":"Calcite","t":680,"v":0.915},{"m":"Calcite","t":780,"v":0.966},
{"m":"Ettringite","t":21,"v":0.866},{"m":"Ettringite","t":100,"v":0.815},{"m":"Ettringite","t":200,"v":0.755},{"m":"Ettringite","t":300,"v":0.698},{"m":"Ettringite","t":358,"v":0.667},{"m":"Ettringite","t":485,"v":0.594},{"m":"Ettringite","t":559,"v":0.562},{"m":"Ettringite","t":650,"v":0.522},{"m":"Ettringite","t":758,"v":0.476}
]
},
"vconcat":[
{
 "title":{"text":"a) OPC","dx":5},
 "width":432,"height":347,
 "encoding":{
  "x":{"field":"t","type":"quantitative","scale":{"domain":[0,600],"nice":false},"axis":{"title":"Time (minutes)","values":[0,100,200,300,400,500,600],"labelExpr":"datum.value % 200 === 0 ? datum.label : ''","tickSize":{"condition":{"test":"datum.value % 200 === 0","value":7},"value":4}}},
  "y":{"field":"v","type":"quantitative","scale":{"domain":[0,1],"nice":false},"axis":{"title":"Normalised I (counts)","values":[0,0.125,0.25,0.375,0.5,0.625,0.75,0.875,1],"labelExpr":"(datum.value*8) % 2 === 0 ? format(datum.value, '.2f') : ''","tickSize":{"condition":{"test":"(datum.value*8) % 2 === 0","value":8},"value":4}}}
 },
 "layer":[
  {"data":{"name":"a_pts"},"mark":{"type":"point","filled":true,"opacity":0.95},
   "encoding":{
    "size":{"field":"m","type":"nominal","scale":{"domain":["Portlandite","Calcite","Ettringite","CSH"],"range":[110,70,70,70]},"legend":null},
    "color":{"field":"m","type":"nominal","scale":{"domain":["Portlandite","Calcite","Ettringite","CSH"],"range":["#b05cb4","#cf4320","#4f9c2f","#22227a"]},"legend":{"title":null,"orient":"none","legendX":9,"legendY":228,"padding":10,"symbolOffset":11,"labelOffset":11,"labelFontSize":19,"symbolSize":90,"rowPadding":5}},
    "shape":{"field":"m","type":"nominal","scale":{"domain":["Portlandite","Calcite","Ettringite","CSH"],"range":["M0,-1L0.096,-0.231L0.707,-0.707L0.231,-0.096L1,0L0.231,0.096L0.707,0.707L0.096,0.231L0,1L-0.096,0.231L-0.707,0.707L-0.231,0.096L-1,0L-0.231,-0.096L-0.707,-0.707L-0.096,-0.231Z","circle","triangle-up","triangle-down"]},"legend":{"title":null,"orient":"none","legendX":9,"legendY":228,"padding":10,"symbolOffset":11,"labelOffset":11,"labelFontSize":19,"symbolSize":90,"rowPadding":5}}
   }},
  {"data":{"name":"a_fit"},"mark":{"type":"line","color":"#111","strokeWidth":1.4,"interpolate":"monotone"},"encoding":{"detail":{"field":"m","type":"nominal"}}}
 ]
},
{
 "title":{"text":"b) OPC-FA","dx":22},
 "width":432,"height":351,
 "encoding":{
  "x":{"field":"t","type":"quantitative","scale":{"domain":[0,600],"nice":false},"axis":{"title":"Time (minutes)","values":[0,100,200,300,400,500,600],"labelExpr":"datum.value % 200 === 0 ? datum.label : ''","tickSize":{"condition":{"test":"datum.value % 200 === 0","value":7},"value":4}}},
  "y":{"field":"v","type":"quantitative","scale":{"domain":[0,1],"nice":false},"axis":{"title":"Normalised I (counts)","values":[0,0.125,0.25,0.375,0.5,0.625,0.75,0.875,1],"labelExpr":"(datum.value*8) % 2 === 0 ? format(datum.value, '.2f') : ''","tickSize":{"condition":{"test":"(datum.value*8) % 2 === 0","value":8},"value":4}}}
 },
 "layer":[
  {"data":{"name":"b_pts"},"mark":{"type":"point","filled":true,"opacity":0.95},
   "encoding":{
    "size":{"field":"m","type":"nominal","scale":{"domain":["Portlandite","Calcite","Ettringite"],"range":[110,70,70]},"legend":null},
    "color":{"field":"m","type":"nominal","scale":{"domain":["Portlandite","Calcite","Ettringite"],"range":["#b05cb4","#cf4320","#4f9c2f"]},"legend":{"title":null,"orient":"none","legendX":251,"legendY":236,"padding":10,"symbolOffset":10,"labelOffset":12,"labelFontSize":19,"symbolSize":90,"rowPadding":6}},
    "shape":{"field":"m","type":"nominal","scale":{"domain":["Portlandite","Calcite","Ettringite"],"range":["M0,-1L0.096,-0.231L0.707,-0.707L0.231,-0.096L1,0L0.231,0.096L0.707,0.707L0.096,0.231L0,1L-0.096,0.231L-0.707,0.707L-0.231,0.096L-1,0L-0.231,-0.096L-0.707,-0.707L-0.096,-0.231Z","circle","triangle-up"]},"legend":{"title":null,"orient":"none","legendX":251,"legendY":236,"padding":10,"symbolOffset":10,"labelOffset":12,"labelFontSize":19,"symbolSize":90,"rowPadding":6}}
   }},
  {"data":{"name":"b_fit"},"mark":{"type":"line","color":"#111","strokeWidth":1.4,"interpolate":"monotone"},"encoding":{"detail":{"field":"m","type":"nominal"}}}
 ]
},
{
 "title":{"text":"c) OPC-MS","dx":0},
 "width":455,"height":310,
 "encoding":{
  "x":{"field":"t","type":"quantitative","scale":{"domain":[0,860],"nice":false},"axis":{"title":"Time (minutes)","values":[0,100,200,300,400,500,600,700,800],"labelExpr":"datum.value % 200 === 0 ? datum.label : ''","tickSize":{"condition":{"test":"datum.value % 200 === 0","value":7},"value":4}}},
  "y":{"field":"v","type":"quantitative","scale":{"domain":[0,1],"nice":false},"axis":{"title":"Normalised I (counts)","values":[0,0.125,0.25,0.375,0.5,0.625,0.75,0.875,1],"labelExpr":"(datum.value*8) % 2 === 0 ? format(datum.value, '.2f') : ''","tickSize":{"condition":{"test":"(datum.value*8) % 2 === 0","value":8},"value":4}}}
 },
 "layer":[
  {"data":{"name":"c_pts"},"mark":{"type":"point","filled":true,"opacity":0.95},
   "encoding":{
    "size":{"field":"m","type":"nominal","scale":{"domain":["Portlandite","Calcite","Ettringite"],"range":[110,70,70]},"legend":null},
    "color":{"field":"m","type":"nominal","scale":{"domain":["Portlandite","Calcite","Ettringite"],"range":["#b05cb4","#cf4320","#4f9c2f"]},"legend":{"title":null,"orient":"none","legendX":33,"legendY":223,"padding":9,"symbolOffset":13,"labelOffset":17,"labelFontSize":18,"symbolSize":90,"rowPadding":4}},
    "shape":{"field":"m","type":"nominal","scale":{"domain":["Portlandite","Calcite","Ettringite"],"range":["M0,-1L0.096,-0.231L0.707,-0.707L0.231,-0.096L1,0L0.231,0.096L0.707,0.707L0.096,0.231L0,1L-0.096,0.231L-0.707,0.707L-0.231,0.096L-1,0L-0.231,-0.096L-0.707,-0.707L-0.096,-0.231Z","circle","triangle-up"]},"legend":{"title":null,"orient":"none","legendX":33,"legendY":223,"padding":9,"symbolOffset":13,"labelOffset":17,"labelFontSize":18,"symbolSize":90,"rowPadding":4}}
   }},
  {"data":{"name":"c_fit"},"mark":{"type":"line","color":"#111","strokeWidth":1.4,"interpolate":"monotone"},"encoding":{"detail":{"field":"m","type":"nominal"}}}
 ]
}
],
"spacing":33,
"resolve":{"scale":{"color":"independent","shape":"independent","size":"independent","x":"independent","y":"independent"},"legend":{"color":"independent","shape":"independent","size":"independent"}}
}
